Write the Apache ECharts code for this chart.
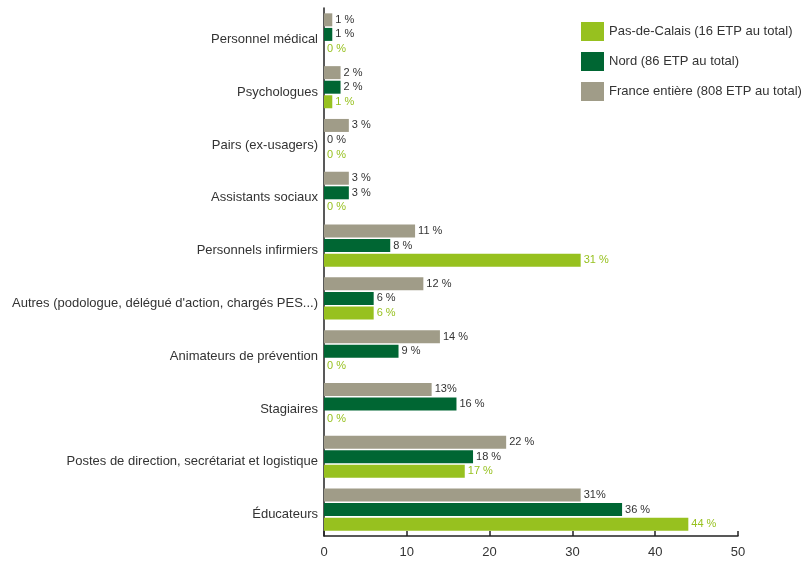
<!DOCTYPE html>
<html>
<head>
<meta charset="utf-8">
<script src="https://cdn.jsdelivr.net/npm/echarts@6/dist/echarts.min.js"></script>
<style>html,body{margin:0;padding:0;background:#fff}#c{width:810px;height:561px}</style>
</head>
<body>
<div id="c"></div>
<script>
const categories = ['Personnel médical','Psychologues','Pairs (ex-usagers)','Assistants sociaux','Personnels infirmiers','Autres (podologue, délégué d\'action, chargés PES...)','Animateurs de prévention','Stagiaires','Postes de direction, secrétariat et logistique','Éducateurs'];
const franceValues = [1,2,3,3,11,12,14,13,22,31];
const nordValues = [1,2,0,3,8,6,9,16,18,36];
const pdcValues = [0,1,0,0,31,6,0,0,17,44];
const franceLabels = ['1 %','2 %','3 %','3 %','11 %','12 %','14 %','13%','22 %','31%'];
const nordLabels = ['1 %','2 %','0 %','3 %','8 %','6 %','9 %','16 %','18 %','36 %'];
const pdcLabels = ['0 %','1 %','0 %','0 %','31 %','6 %','0 %','0 %','17 %','44 %'];
const xTicks = [0,10,20,30,40,50];
const names = ['Pas-de-Calais (16 ETP au total)','Nord (86 ETP au total)','France entière (808 ETP au total)'];

const FONT = 'Liberation Sans';
function mk(name, values, labels, color, labelColor){
  return {
    name, type:'bar', data: values, barWidth: 13, barGap: '12%',
    itemStyle:{color},
    label:{show:true, position:'right', distance:3, fontSize:11, fontFamily:FONT, color:labelColor,
      formatter: p => labels[p.dataIndex]}
  };
}
const chart = echarts.init(document.getElementById('c'), null, {renderer:'canvas'});
chart.setOption({
  animation:false,
  textStyle:{fontFamily:FONT},
  grid:{left:324, right:72, top:8, bottom:25, containLabel:false, outerBoundsMode:'none'},
  legend:{
    orient:'vertical', left:576, top:17, itemWidth:23, itemHeight:19, itemGap:11,
    icon:'rect', data: names,
    textStyle:{fontSize:13, color:'#333', fontFamily:FONT}
  },
  xAxis:{
    type:'value', min:xTicks[0], max:xTicks[xTicks.length-1], interval:10,
    splitLine:{show:false},
    axisLine:{show:true, lineStyle:{color:'#222', width:1.5}},
    axisTick:{show:true, inside:true, length:5, lineStyle:{color:'#222', width:1.5}},
    axisLabel:{fontSize:13, color:'#333', margin:10, fontFamily:FONT}
  },
  yAxis:{
    type:'category', data:categories, inverse:true,
    axisLine:{show:true, lineStyle:{color:'#222', width:1.5}},
    axisTick:{show:false},
    axisLabel:{fontSize:13, color:'#333', margin:6, fontFamily:FONT, lineHeight:10, verticalAlign:'top'}
  },
  series:[
    mk(names[2], franceValues, franceLabels, '#A09C88', '#333'),
    mk(names[1], nordValues, nordLabels, '#006633', '#333'),
    mk(names[0], pdcValues, pdcLabels, '#97C11F', '#97C11F')
  ]
});
</script>
</body>
</html>
